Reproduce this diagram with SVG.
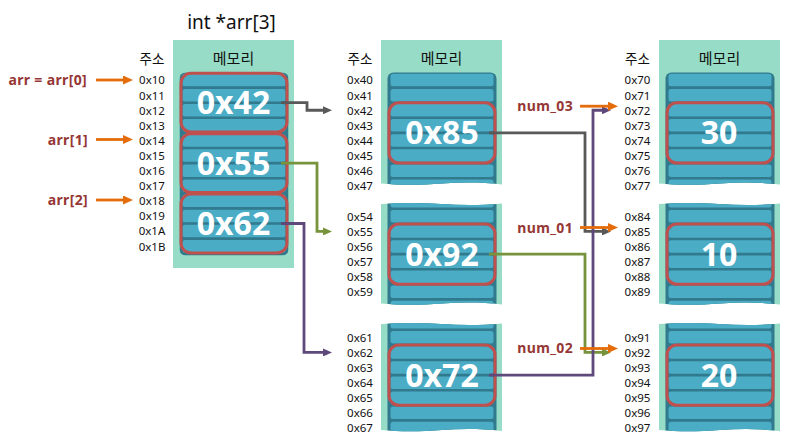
<svg xmlns="http://www.w3.org/2000/svg" xmlns:xlink="http://www.w3.org/1999/xlink" width="794" height="444" viewBox="0 0 794 444">
<style>
.bg{fill:#96DCC6}
.col{fill:#31798D}
.row{fill:#4BACC6}
.box{fill:none;stroke:#C0504D;stroke-width:3}
.addr{font-family:"Noto Sans",sans-serif;font-size:11.5px;fill:#111;text-anchor:middle}
.ko{font-family:"Noto Sans CJK KR",sans-serif;fill:#111;text-anchor:middle}
.big{font-family:"Noto Sans",sans-serif;font-weight:bold;font-size:32px;fill:#fff;text-anchor:middle}
.lbl{font-family:"Noto Sans",sans-serif;font-weight:bold;font-size:14px;letter-spacing:0.35px;fill:#953735;text-anchor:end}
.c{fill:none;stroke-width:2.8;stroke-linejoin:miter}
.title{font-family:"Noto Sans",sans-serif;font-size:19px;fill:#111;text-anchor:middle}
</style>
<defs>
<g id="rows">
<rect class="row" x="9.5" y="1.3" width="103" height="12.5" rx="2.5"/>
<rect class="row" x="9.5" y="16.4" width="103" height="12.5" rx="2.5"/>
<rect class="row" x="9.5" y="31.5" width="103" height="12.5" rx="2.5"/>
<rect class="row" x="9.5" y="46.6" width="103" height="12.5" rx="2.5"/>
<rect class="row" x="9.5" y="61.7" width="103" height="12.5" rx="2.5"/>
<rect class="row" x="9.5" y="76.8" width="103" height="12.5" rx="2.5"/>
<rect class="row" x="9.5" y="91.9" width="103" height="12.5" rx="2.5"/>
<rect class="row" x="9.5" y="107" width="103" height="12.5" rx="2.5"/>
<rect class="row" x="9.5" y="122.1" width="103" height="12.5" rx="2.5"/>
<rect class="row" x="9.5" y="137.2" width="103" height="12.5" rx="2.5"/>
<rect class="row" x="9.5" y="152.3" width="103" height="12.5" rx="2.5"/>
<rect class="row" x="9.5" y="167.4" width="103" height="12.5" rx="2.5"/>
</g>
<clipPath id="clL"><rect x="6.5" y="72.5" width="109" height="183" rx="6"/></clipPath>
<clipPath id="w1"><path d="M0,40 H121 V184.5 C101,182 81,182 61,183.5 C41,185 21,185.5 0,183.5 Z"/></clipPath>
<clipPath id="w2"><path d="M0,204 C20,202.5 40,202.5 60,204 C80,205.5 101,205.5 121,203.5 V304.5 C101,302 81,302 61,303.5 C41,305 21,305.5 0,303.5 Z"/></clipPath>
<clipPath id="w3"><path d="M0,324 C20,322.5 40,322.5 60,324 C80,325.5 101,325.5 121,323.5 V431 C101,428.5 81,428.5 61,430 C41,431.5 21,432 0,430 Z"/></clipPath>
<marker id="mo" markerUnits="userSpaceOnUse" markerWidth="10" markerHeight="9" refX="2" refY="4.5" orient="auto"><path d="M0,0 L10,4.5 L0,9 Z" fill="#E46C0A"/></marker>
<marker id="mg" markerUnits="userSpaceOnUse" markerWidth="9" markerHeight="8" refX="2" refY="4" orient="auto"><path d="M0,0 L9,4 L0,8 Z" fill="#595959"/></marker>
<marker id="mn" markerUnits="userSpaceOnUse" markerWidth="9" markerHeight="8" refX="2" refY="4" orient="auto"><path d="M0,0 L9,4 L0,8 Z" fill="#77933C"/></marker>
<marker id="mp" markerUnits="userSpaceOnUse" markerWidth="9" markerHeight="8" refX="2" refY="4" orient="auto"><path d="M0,0 L9,4 L0,8 Z" fill="#5F497A"/></marker>
</defs>

<rect width="794" height="444" fill="#fff"/>

<text class="title" x="231.5" y="29">int *arr[3]</text>

<g id="arr" transform="translate(173,0)">
<rect class="bg" x="0" y="40" width="121" height="228"/>
<g clip-path="url(#clL)">
<rect class="col" x="6.5" y="72.5" width="109" height="183"/>
<use xlink:href="#rows" y="72.5"/>
</g>
<rect class="box" x="8" y="73.3" width="106" height="58.8" rx="10"/>
<rect class="box" x="8" y="133.7" width="106" height="58.8" rx="10"/>
<rect class="box" x="8" y="194.1" width="106" height="58.8" rx="10"/>
<text class="big" x="60.5" y="114.2">0x42</text>
<text class="big" x="60.5" y="174.6">0x55</text>
<text class="big" x="60.5" y="235">0x62</text>
<text class="ko" x="60.5" y="64" font-size="15">메모리</text>
<text class="ko" x="-21" y="64" font-size="13.5">주소</text>
<text class="addr" x="-21" y="84.4">0x10</text>
<text class="addr" x="-21" y="99.5">0x11</text>
<text class="addr" x="-21" y="114.6">0x12</text>
<text class="addr" x="-21" y="129.7">0x13</text>
<text class="addr" x="-21" y="144.8">0x14</text>
<text class="addr" x="-21" y="159.9">0x15</text>
<text class="addr" x="-21" y="175">0x16</text>
<text class="addr" x="-21" y="190.1">0x17</text>
<text class="addr" x="-21" y="205.2">0x18</text>
<text class="addr" x="-21" y="220.3">0x19</text>
<text class="addr" x="-21" y="235.4">0x1A</text>
<text class="addr" x="-21" y="250.5">0x1B</text>
</g>

<g id="mem40" transform="translate(381,0)">
<g clip-path="url(#w1)">
<rect class="bg" x="0" y="40" width="121" height="150"/>
<rect class="col" x="6.5" y="72.5" width="109" height="130" rx="6"/>
<use xlink:href="#rows" y="72.5"/>
</g>
<rect class="box" x="8" y="102.7" width="106" height="60.4" rx="10"/>
<text class="big" x="61" y="144.4">0x85</text>
<text class="ko" x="60.5" y="64" font-size="15">메모리</text>
<text class="ko" x="-21" y="64" font-size="13.5">주소</text>
<text class="addr" x="-21" y="84.4">0x40</text>
<text class="addr" x="-21" y="99.5">0x41</text>
<text class="addr" x="-21" y="114.6">0x42</text>
<text class="addr" x="-21" y="129.7">0x43</text>
<text class="addr" x="-21" y="144.8">0x44</text>
<text class="addr" x="-21" y="159.9">0x45</text>
<text class="addr" x="-21" y="175">0x46</text>
<text class="addr" x="-21" y="190.1">0x47</text>
</g>

<g id="mem54" transform="translate(381,0)">
<g clip-path="url(#w2)">
<rect class="bg" x="0" y="190" width="121" height="130"/>
<rect class="col" x="6.5" y="190" width="109" height="130"/>
<use xlink:href="#rows" y="193.7"/>
</g>
<rect class="box" x="8" y="223.9" width="106" height="60.4" rx="10"/>
<text class="big" x="61" y="265.6">0x92</text>
<text class="addr" x="-21" y="220.6">0x54</text>
<text class="addr" x="-21" y="235.7">0x55</text>
<text class="addr" x="-21" y="250.8">0x56</text>
<text class="addr" x="-21" y="265.9">0x57</text>
<text class="addr" x="-21" y="281">0x58</text>
<text class="addr" x="-21" y="296.1">0x59</text>
</g>

<g id="mem61" transform="translate(381,0)">
<g clip-path="url(#w3)">
<rect class="bg" x="0" y="310" width="121" height="130"/>
<rect class="col" x="6.5" y="310" width="109" height="130"/>
<use xlink:href="#rows" y="314.7"/>
</g>
<rect class="box" x="8" y="344.9" width="106" height="60.4" rx="10"/>
<text class="big" x="61" y="386.6">0x72</text>
<text class="addr" x="-21" y="341.6">0x61</text>
<text class="addr" x="-21" y="356.7">0x62</text>
<text class="addr" x="-21" y="371.8">0x63</text>
<text class="addr" x="-21" y="386.9">0x64</text>
<text class="addr" x="-21" y="402">0x65</text>
<text class="addr" x="-21" y="417.1">0x66</text>
<text class="addr" x="-21" y="432">0x67</text>
</g>

<g id="num_03" transform="translate(659,0)">
<g clip-path="url(#w1)">
<rect class="bg" x="0" y="40" width="121" height="150"/>
<rect class="col" x="6.5" y="72.5" width="109" height="130" rx="6"/>
<use xlink:href="#rows" y="72.5"/>
</g>
<rect class="box" x="8" y="102.7" width="106" height="60.4" rx="10"/>
<text class="big" x="60" y="144.4">30</text>
<text class="ko" x="60.5" y="64" font-size="15">메모리</text>
<text class="ko" x="-21.5" y="64" font-size="13.5">주소</text>
<text class="addr" x="-21.5" y="84.4">0x70</text>
<text class="addr" x="-21.5" y="99.5">0x71</text>
<text class="addr" x="-21.5" y="114.6">0x72</text>
<text class="addr" x="-21.5" y="129.7">0x73</text>
<text class="addr" x="-21.5" y="144.8">0x74</text>
<text class="addr" x="-21.5" y="159.9">0x75</text>
<text class="addr" x="-21.5" y="175">0x76</text>
<text class="addr" x="-21.5" y="190.1">0x77</text>
</g>

<g id="num_01" transform="translate(659,0)">
<g clip-path="url(#w2)">
<rect class="bg" x="0" y="190" width="121" height="130"/>
<rect class="col" x="6.5" y="190" width="109" height="130"/>
<use xlink:href="#rows" y="193.7"/>
</g>
<rect class="box" x="8" y="223.9" width="106" height="60.4" rx="10"/>
<text class="big" x="60" y="265.6">10</text>
<text class="addr" x="-21.5" y="220.6">0x84</text>
<text class="addr" x="-21.5" y="235.7">0x85</text>
<text class="addr" x="-21.5" y="250.8">0x86</text>
<text class="addr" x="-21.5" y="265.9">0x87</text>
<text class="addr" x="-21.5" y="281">0x88</text>
<text class="addr" x="-21.5" y="296.1">0x89</text>
</g>

<g id="num_02" transform="translate(659,0)">
<g clip-path="url(#w3)">
<rect class="bg" x="0" y="310" width="121" height="130"/>
<rect class="col" x="6.5" y="310" width="109" height="130"/>
<use xlink:href="#rows" y="314.7"/>
</g>
<rect class="box" x="8" y="344.9" width="106" height="60.4" rx="10"/>
<text class="big" x="60" y="386.6">20</text>
<text class="addr" x="-21.5" y="341.6">0x91</text>
<text class="addr" x="-21.5" y="356.7">0x92</text>
<text class="addr" x="-21.5" y="371.8">0x93</text>
<text class="addr" x="-21.5" y="386.9">0x94</text>
<text class="addr" x="-21.5" y="402">0x95</text>
<text class="addr" x="-21.5" y="417.1">0x96</text>
<text class="addr" x="-21.5" y="432">0x97</text>
</g>

<g id="connectors">
<path class="c" stroke="#595959" marker-end="url(#mg)" d="M281,102.7 H307 V110.25 H325"/>
<path class="c" stroke="#77933C" marker-end="url(#mn)" d="M281,163.1 H317 V231.45 H325"/>
<path class="c" stroke="#5F497A" marker-end="url(#mp)" d="M281,223.5 H304 V352.45 H325"/>
<path class="c" stroke="#595959" marker-end="url(#mg)" d="M489,132.9 H585 V231.45 H604"/>
<path class="c" stroke="#77933C" marker-end="url(#mn)" d="M489,254.1 H585 V352.45 H604"/>
<path class="c" stroke="#5F497A" marker-end="url(#mp)" d="M489,375.1 H593 V110.25 H604"/>
<path class="c" stroke="#E46C0A" stroke-width="3" marker-end="url(#mo)" d="M96,80 H125"/>
<path class="c" stroke="#E46C0A" stroke-width="3" marker-end="url(#mo)" d="M96,139.5 H125"/>
<path class="c" stroke="#E46C0A" stroke-width="3" marker-end="url(#mo)" d="M96,200 H125"/>
<path class="c" stroke="#E46C0A" stroke-width="3" marker-end="url(#mo)" d="M580,106.2 H610"/>
<path class="c" stroke="#E46C0A" stroke-width="3" marker-end="url(#mo)" d="M580,227.5 H610"/>
<path class="c" stroke="#E46C0A" stroke-width="3" marker-end="url(#mo)" d="M580,348.5 H610"/>
</g>

<g id="labels">
<text class="lbl" x="87" y="84.5">arr = arr[0]</text>
<text class="lbl" x="88" y="144.5">arr[1]</text>
<text class="lbl" x="88" y="204.5">arr[2]</text>
<text class="lbl" x="573" y="111">num_03</text>
<text class="lbl" x="573" y="232.5">num_01</text>
<text class="lbl" x="573" y="353">num_02</text>
</g>
</svg>
